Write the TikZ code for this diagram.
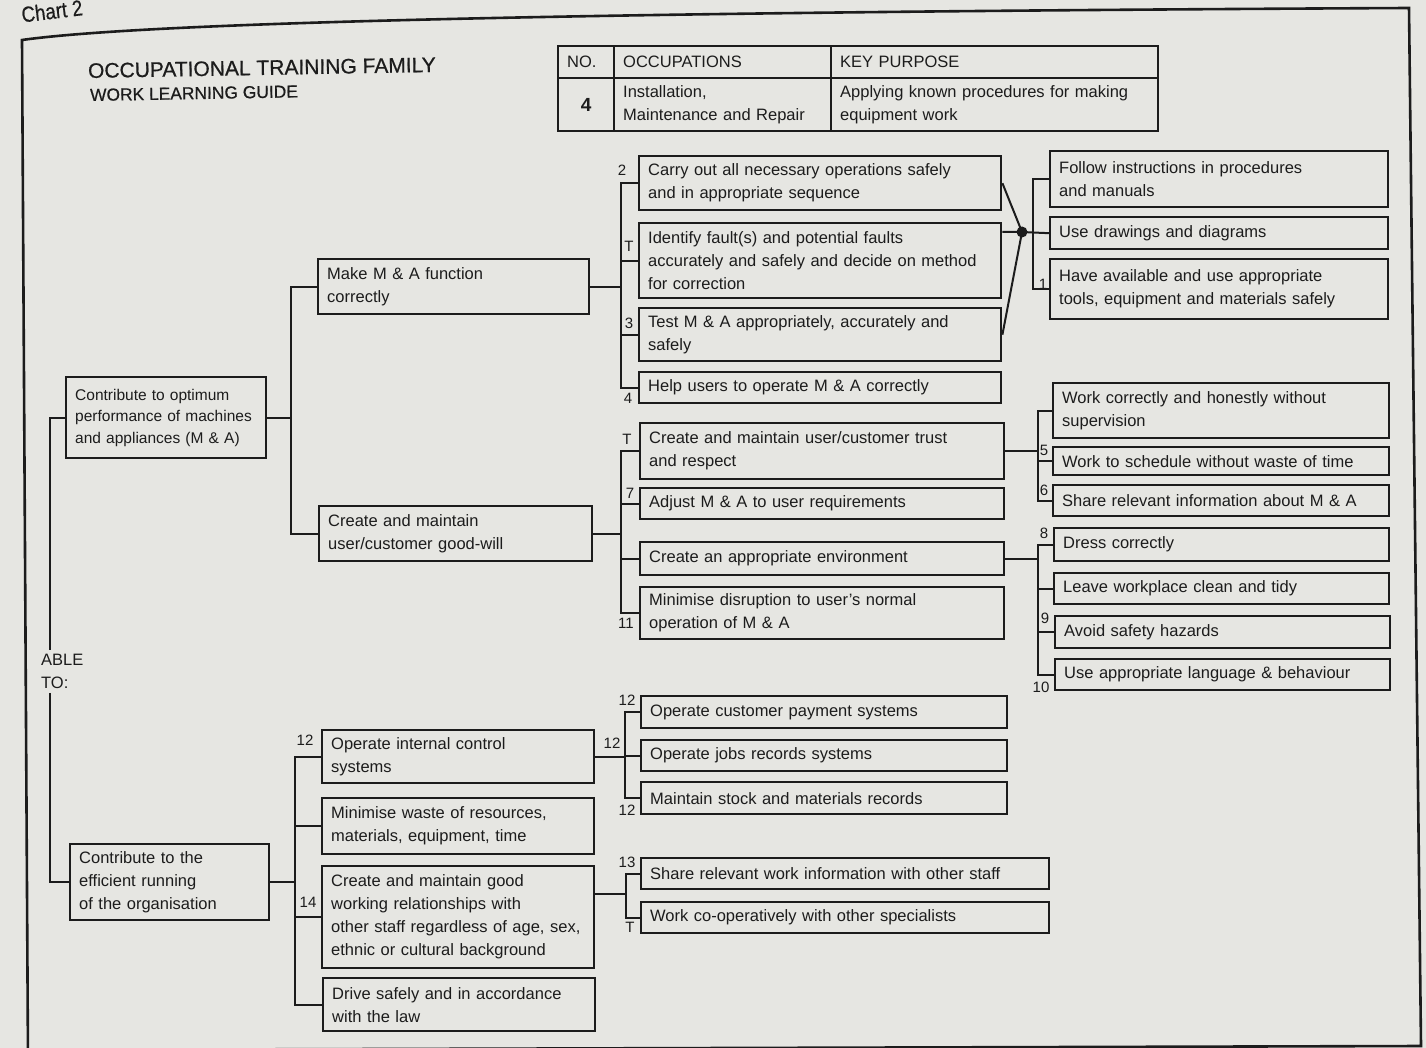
\documentclass[tikz,border=0pt]{standalone}
\usepackage{fontspec}
\setmainfont{Liberation Sans}
\newfontfamily\headfamily[FakeBold=0.6]{Liberation Sans}
\newfontfamily\narrowfamily[FakeStretch=0.85,FakeBold=0.5]{Liberation Sans}
\definecolor{paper}{RGB}{230,230,226}
\definecolor{ink}{RGB}{28,28,28}
\newcommand{\boxfnt}{\fontsize{16.5}{23}\selectfont}
\newcommand{\smallboxfnt}{\fontsize{15.5}{21.5}\selectfont}
\newcommand{\numfnt}{\fontsize{15}{15}\selectfont}
\newcommand{\ttlfnt}{\headfamily\fontsize{21}{24}\selectfont}
\newcommand{\subttlfnt}{\headfamily\fontsize{17.4}{20}\selectfont}
\newcommand{\chartfnt}{\narrowfamily\fontsize{22}{22}\selectfont}
\usepackage{tikz}

\begin{document}
\begin{tikzpicture}[x=1pt, y=-1pt,
    box/.style={draw=ink, line width=2.4pt, anchor=north west, align=left,
      inner xsep=9pt, inner ysep=0pt, text=ink, font=\boxfnt},
    link/.style={draw=ink, line width=2pt},
    num/.style={text=ink, font=\numfnt, inner sep=0pt}]
            \useasboundingbox (0,0) rectangle (1426,1048);
            \fill[paper] (0,0) rectangle (1426,1048);
            \draw[ink, line width=2.6pt] (28,1060) -- (22,40) .. controls (150,22) and (600,12) .. (1409,8) -- (1421,1046) -- (28,1050);
            \node[rotate=7, text=ink, font=\chartfnt, inner sep=0pt] (chart) at (52,11) {Chart 2};
            \node[anchor=base west, rotate=1, text=ink, font=\ttlfnt, inner sep=0pt] (title) at (88,78) {OCCUPATIONAL TRAINING FAMILY};
            \node[anchor=base west, rotate=1, text=ink, font=\subttlfnt, inner sep=0pt] (subtitle) at (90,101) {WORK LEARNING GUIDE};
            \node[box, text width=38pt, minimum height=32pt] (hNo) at (557,45) {NO.};
            \node[box, text width=199pt, minimum height=32pt] (hOcc) at (613,45) {OCCUPATIONS};
            \node[box, text width=309pt, minimum height=32pt] (hKey) at (830,45) {KEY PURPOSE};
            \node[box, align=center, text width=38pt, minimum height=53pt, font=\fontsize{19}{19}\selectfont\bfseries] (vNo) at (557,77) {4};
            \node[box, text width=199pt, minimum height=53pt] (vOcc) at (613,77) {Installation,\\Maintenance and Repair};
            \node[box, text width=309pt, minimum height=53pt] (vKey) at (830,77) {Applying known procedures for making\\equipment work};
            \node[box, font=\smallboxfnt, text width=182pt, minimum height=81pt] (A1) at (65,376) {Contribute to optimum\\performance of machines\\and appliances (M \& A)};
            \node[box, text width=181pt, minimum height=76pt] (A2) at (69,843) {Contribute to the\\efficient running\\of the organisation};
            \node[anchor=north west, align=left, text=ink, font=\boxfnt, inner xsep=0pt, inner ysep=4pt] (able) at (41,650) {ABLE\\TO:};
            \node[box, text width=253pt, minimum height=55pt] (B1) at (317,258) {Make M \& A function\\correctly};
            \node[box, text width=255pt, minimum height=55pt] (B2) at (318,505) {Create and maintain\\user/customer good-will};
            \node[box, text width=344pt, minimum height=54pt] (C1) at (638,155) {Carry out all necessary operations safely\\and in appropriate sequence};
            \node[box, text width=344pt, minimum height=75pt] (C2) at (638,222) {Identify fault(s) and potential faults\\accurately and safely and decide on method\\for correction};
            \node[box, text width=344pt, minimum height=53pt] (C3) at (638,307) {Test M \& A appropriately, accurately and\\safely};
            \node[box, text width=344pt, minimum height=31pt] (C4) at (638,371) {Help users to operate M \& A correctly};
            \node[box, text width=346pt, minimum height=56pt] (C5) at (639,422) {Create and maintain user/customer trust\\and respect};
            \node[box, text width=346pt, minimum height=31pt] (C6) at (639,487) {Adjust M \& A to user requirements};
            \node[box, text width=346pt, minimum height=33pt] (C7) at (639,541) {Create an appropriate environment};
            \node[box, text width=346pt, minimum height=52pt] (C8) at (639,586) {Minimise disruption to user's normal\\operation of M \& A};
            \node[box, text width=320pt, minimum height=56pt] (D1) at (1049,150) {Follow instructions in procedures\\and manuals};
            \node[box, text width=320pt, minimum height=32pt] (D2) at (1049,216) {Use drawings and diagrams};
            \node[box, text width=320pt, minimum height=60pt] (D3) at (1049,258) {Have available and use appropriate\\tools, equipment and materials safely};
            \node[box, text width=318pt, minimum height=55pt] (D4) at (1052,382) {Work correctly and honestly without\\supervision};
            \node[box, text width=318pt, minimum height=28pt] (D5) at (1052,446) {Work to schedule without waste of time};
            \node[box, text width=318pt, minimum height=31pt] (D6) at (1052,484) {Share relevant information about M \& A};
            \node[box, text width=317pt, minimum height=33pt] (D7) at (1053,527) {Dress correctly};
            \node[box, text width=317pt, minimum height=31pt] (D8) at (1053,572) {Leave workplace clean and tidy};
            \node[box, text width=317pt, minimum height=32pt] (D9) at (1054,615) {Avoid safety hazards};
            \node[box, text width=317pt, minimum height=31pt] (D10) at (1054,658) {Use appropriate language \& behaviour};
            \node[box, text width=254pt, minimum height=53pt] (E1) at (321,729) {Operate internal control\\systems};
            \node[box, text width=254pt, minimum height=56pt] (E2) at (321,797) {Minimise waste of resources,\\materials, equipment, time};
            \node[box, text width=254pt, minimum height=102pt] (E3) at (321,865) {Create and maintain good\\working relationships with\\other staff regardless of age, sex,\\ethnic or cultural background};
            \node[box, text width=254pt, minimum height=53pt] (E4) at (322,977) {Drive safely and in accordance\\with the law};
            \node[box, text width=348pt, minimum height=32pt] (F1) at (640,695) {Operate customer payment systems};
            \node[box, text width=348pt, minimum height=31pt] (F2) at (640,739) {Operate jobs records systems};
            \node[box, text width=348pt, minimum height=32pt] (F3) at (640,781) {Maintain stock and materials records};
            \node[box, text width=390pt, minimum height=31pt] (F4) at (640,857) {Share relevant work information with other staff};
            \node[box, text width=390pt, minimum height=31pt] (F5) at (640,901) {Work co-operatively with other specialists};
            \node[circle, fill=ink, inner sep=0pt, minimum size=11pt] (hub) at (1022,232) {};
            \coordinate (barL) at (50,0);
            \coordinate (barB) at (291,0);
            \coordinate (barC) at (621,0);
            \coordinate (barD) at (1033,0);
            \coordinate (barG) at (1038,0);
            \coordinate (barE) at (295,0);
            \coordinate (barF) at (625,0);
            \coordinate (jF) at (626,894);
            \draw[link] (A1.west) -- (A1.west -| barL) -- (able.north -| barL);
            \draw[link] (able.south -| barL) -- (A2.west -| barL) -- (A2.west);
            \draw[link] (A1.east) -- (A1.east -| barB);
            \draw[link] (B1.west) -- (B1.west -| barB) -- (B2.west -| barB) -- (B2.west);
            \draw[link] (B1.east) -- (B1.east -| barC);
            \draw[link] (C1.west) -- (C1.west -| barC) -- (C4.west -| barC) -- (C4.west);
            \foreach \n in {C2,C3}
                \draw[link] (\n.west) -- (\n.west -| barC);
            \draw[link] (C1.east) -- (hub.center);
            \draw[link] (C3.east) -- (hub.center);
            \draw[link] (hub.center -| C2.east) -- (hub.center) -- (D2.west);
            \draw[link] (D1.west) -- (D1.west -| barD) -- (D3.west -| barD) -- (D3.west);
            \draw[link] (B2.east) -- (B2.east -| barC);
            \draw[link] (C5.west) -- (C5.west -| barC) -- (C8.west -| barC) -- (C8.west);
            \foreach \n in {C6,C7}
                \draw[link] (\n.west) -- (\n.west -| barC);
            \draw[link] (C5.east) -- (C5.east -| barG);
            \draw[link] (D4.west) -- (D4.west -| barG) -- (D6.west -| barG) -- (D6.west);
            \draw[link] (D5.west) -- (D5.west -| barG);
            \draw[link] (C7.east) -- (C7.east -| barG);
            \draw[link] (D7.west) -- (D7.west -| barG) -- (D10.west -| barG) -- (D10.west);
            \foreach \n in {D8,D9}
                \draw[link] (\n.west) -- (\n.west -| barG);
            \draw[link] (A2.east) -- (A2.east -| barE);
            \draw[link] (E1.west) -- (E1.west -| barE) -- (E4.west -| barE) -- (E4.west);
            \foreach \n in {E2,E3}
                \draw[link] (\n.west) -- (\n.west -| barE);
            \draw[link] (E1.east) -- (E1.east -| barF);
            \draw[link] (F1.west) -- (F1.west -| barF) -- (F3.west -| barF) -- (F3.west);
            \draw[link] (F2.west) -- (F2.west -| barF);
            \draw[link] (jF -| E3.east) -- (jF);
            \draw[link] (F4.west) -- (F4.west -| jF) -- (F5.west -| jF) -- (F5.west);
            \node[num] (lC1) at (622,170) {2};
            \node[num] (lC2) at (629,246) {T};
            \node[num] (lC3) at (629,323) {3};
            \node[num] (lC4) at (628,398) {4};
            \node[num] (lD3) at (1043,284) {1};
            \node[num] (lC5) at (627,439) {T};
            \node[num] (lC6) at (630,493) {7};
            \node[num] (lC8) at (626,623) {11};
            \node[num] (lD5) at (1044,450) {5};
            \node[num] (lD6) at (1044,490) {6};
            \node[num] (lD7) at (1044,533) {8};
            \node[num] (lD9) at (1045,618) {9};
            \node[num] (lD10) at (1041,687) {10};
            \node[num] (lF1) at (627,700) {12};
            \node[num] (lF2) at (612,743) {12};
            \node[num] (lF3) at (627,810) {12};
            \node[num] (lF4) at (627,862) {13};
            \node[num] (lF5) at (630,927) {T};
            \node[num] (lE1) at (305,740) {12};
            \node[num] (lE3) at (308,902) {14};
        \end{tikzpicture}
\end{document}
